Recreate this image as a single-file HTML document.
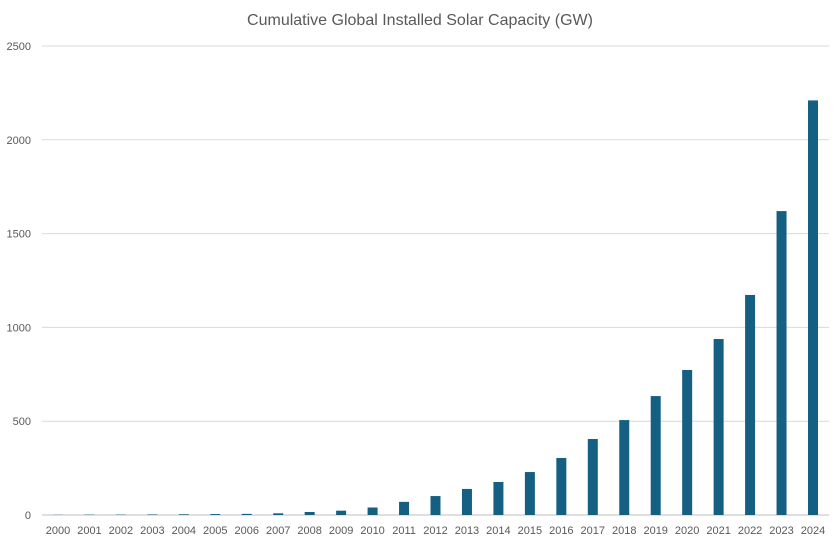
<!DOCTYPE html>
<html><head><meta charset="utf-8"><style>
body{margin:0;background:#fff;}
svg text{font-family:"Liberation Sans",Arial,sans-serif;}
</style></head><body>
<svg id="chart" width="836" height="545" viewBox="0 0 836 545" xmlns="http://www.w3.org/2000/svg">
<rect width="836" height="545" fill="#fff"/>
<text x="420" y="25" text-anchor="middle" font-size="16" fill="#595959">Cumulative Global Installed Solar Capacity (GW)</text>
<g id="grid"></g><g id="bars"></g><g id="xlabels"></g><g id="ylabels"></g>
</svg>
<script>
const years=["2000","2001","2002","2003","2004","2005","2006","2007","2008","2009","2010","2011","2012","2013","2014","2015","2016","2017","2018","2019","2020","2021","2022","2023","2024"];
const capacity=[1,2,2,3,4,5,6,9,16,23,40,70,101,139,176,229,304,405,506,634,773,938,1173,1620,2210];
const yTicks=[0,500,1000,1500,2000,2500];
const NS="http://www.w3.org/2000/svg";
const y0=515,yTop=46,yMax=2500,xL=42,xR=829,x0=58,x1=813,bw=10;
const yS=v=>y0-(v/yMax)*(y0-yTop);
const xS=i=>x0+i*(x1-x0)/(years.length-1);
function mk(t,a,p){const e=document.createElementNS(NS,t);for(const k in a)e.setAttribute(k,a[k]);p.appendChild(e);return e;}
const g=document.getElementById('grid'),b=document.getElementById('bars'),xl=document.getElementById('xlabels'),yl=document.getElementById('ylabels');
yTicks.forEach(v=>{
 const l=mk('line',{x1:xL,x2:xR,y1:yS(v),y2:yS(v),stroke:v===0?'#bfbfbf':'#d9d9d9','stroke-width':1},g);
 
 
 const t=mk('text',{x:31,y:yS(v)+4,'text-anchor':'end','font-size':11,fill:'#595959'},yl);
 t.textContent=v;
 
 
});
years.forEach((yr,i)=>{
 const r=mk('rect',{x:xS(i)-bw/2,y:yS(capacity[i]),width:bw,height:y0-yS(capacity[i]),fill:'#156082'},b);
 
 
 const t=mk('text',{x:xS(i),y:534,'text-anchor':'middle','font-size':11,fill:'#595959'},xl);
 t.textContent=yr;
 
 
});
</script>
</body></html>
